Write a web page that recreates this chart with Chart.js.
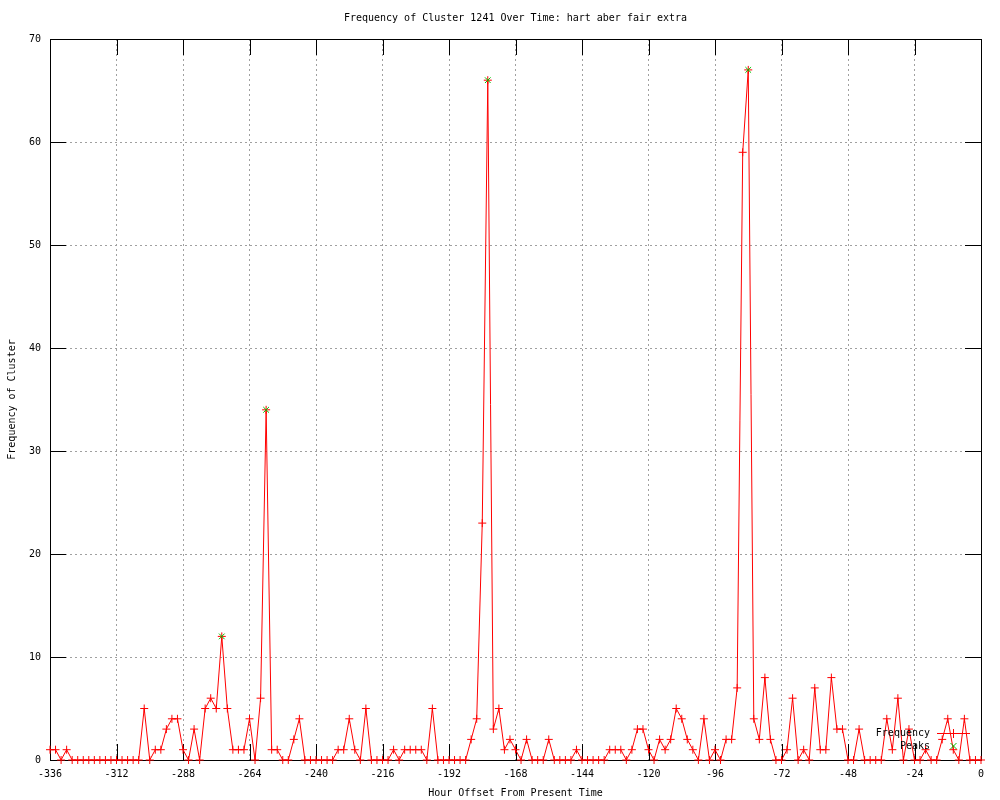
<!DOCTYPE html>
<html>
<head>
<meta charset="utf-8">
<script src="https://cdn.jsdelivr.net/npm/chart.js@4.4.1/dist/chart.umd.min.js"></script>
<style>
  html, body { margin: 0; padding: 0; background: #fff; }
  canvas { display: block; }
</style>
</head>
<body>
<canvas id="grafico" width="1000" height="800"></canvas>
<script>
// hour offsets (one point every 2 hours)
const hours = [
  -336,-334,-332,-330,-328,-326,-324,-322,-320,-318,-316,-314,
  -312,-310,-308,-306,-304,-302,-300,-298,-296,-294,-292,-290,
  -288,-286,-284,-282,-280,-278,-276,-274,-272,-270,-268,-266,
  -264,-262,-260,-258,-256,-254,-252,-250,-248,-246,-244,-242,
  -240,-238,-236,-234,-232,-230,-228,-226,-224,-222,-220,-218,
  -216,-214,-212,-210,-208,-206,-204,-202,-200,-198,-196,-194,
  -192,-190,-188,-186,-184,-182,-180,-178,-176,-174,-172,-170,
  -168,-166,-164,-162,-160,-158,-156,-154,-152,-150,-148,-146,
  -144,-142,-140,-138,-136,-134,-132,-130,-128,-126,-124,-122,
  -120,-118,-116,-114,-112,-110,-108,-106,-104,-102,-100,-98,
  -96,-94,-92,-90,-88,-86,-84,-82,-80,-78,-76,-74,
  -72,-70,-68,-66,-64,-62,-60,-58,-56,-54,-52,-50,
  -48,-46,-44,-42,-40,-38,-36,-34,-32,-30,-28,-26,
  -24,-22,-20,-18,-16,-14,-12,-10,-8,-6,-4,-2,
  0
];
const frequency = [
  1,1,0,1,0,0,0,0,0,0,0,0,
  0,0,0,0,0,5,0,1,1,3,4,4,
  1,0,3,0,5,6,5,12,5,1,1,1,
  4,0,6,34,1,1,0,0,2,4,0,0,
  0,0,0,0,1,1,4,1,0,5,0,0,
  0,0,1,0,1,1,1,1,0,5,0,0,
  0,0,0,0,2,4,23,66,3,5,1,2,
  1,0,2,0,0,0,2,0,0,0,0,1,
  0,0,0,0,0,1,1,1,0,1,3,3,
  1,0,2,1,2,5,4,2,1,0,4,0,
  1,0,2,2,7,59,67,4,2,8,2,0,
  0,1,6,0,1,0,7,1,1,8,3,3,
  0,0,3,0,0,0,0,4,1,6,0,3,
  0,0,1,0,0,2,4,1,0,4,0,0,
  0
];
const peakHours = [-274, -258, -178, -84];
const peakValues = [12, 34, 66, 67];

const xTicks = { min: -336, max: 0, step: 24 };
const yTicks = { min: 0, max: 70, step: 10 };

const titulo = 'Frequency of Cluster 1241 Over Time: hart aber fair extra';
const tituloX = 'Hour Offset From Present Time';
const tituloY = 'Frequency of Cluster';

const fuente = '10px "DejaVu Sans Mono"';
const rojo = '#ff0000';
const verde = '#00c000';

// marco, marcas, titulos y leyenda al estilo gnuplot
const marco = {
  id: 'marco',
  beforeDatasetsDraw(chart) {
    const { ctx, chartArea: a, scales: { x, y } } = chart;
    ctx.save();
    ctx.strokeStyle = '#000';
    ctx.lineWidth = 1;
    ctx.beginPath();
    x.ticks.forEach(t => {
      const px = Math.round(x.getPixelForValue(t.value)) + 0.5;
      ctx.moveTo(px, a.bottom); ctx.lineTo(px, a.bottom - 16);
      ctx.moveTo(px, a.top); ctx.lineTo(px, a.top + 16);
    });
    y.ticks.forEach(t => {
      const py = Math.round(y.getPixelForValue(t.value)) + 0.5;
      ctx.moveTo(a.left, py); ctx.lineTo(a.left + 16, py);
      ctx.moveTo(a.right, py); ctx.lineTo(a.right - 16, py);
    });
    ctx.stroke();
    ctx.strokeRect(Math.round(a.left) + 0.5, Math.round(a.top) + 0.5,
      Math.round(a.right - a.left), Math.round(a.bottom - a.top));
    ctx.restore();
  },
  afterDraw(chart) {
    const { ctx, chartArea: a } = chart;
    ctx.save();
    ctx.font = fuente;
    ctx.fillStyle = '#000';
    ctx.textBaseline = 'middle';
    ctx.textAlign = 'center';
    const cx = (a.left + a.right) / 2;
    ctx.fillText(titulo, cx, 18);
    ctx.fillText(tituloX, cx, 793);
    ctx.save();
    ctx.translate(12, (a.top + a.bottom) / 2);
    ctx.rotate(-Math.PI / 2);
    ctx.fillText(tituloY, 0, 0);
    ctx.restore();

    // leyenda
    ctx.textAlign = 'right';
    ctx.fillText('Frequency', 930, 733);
    ctx.fillText('Peaks', 930, 746);
    ctx.strokeStyle = rojo;
    ctx.lineWidth = 1;
    ctx.beginPath();
    ctx.moveTo(937, 733.5); ctx.lineTo(970, 733.5);
    ctx.moveTo(949.5, 733.5); ctx.lineTo(957.5, 733.5);
    ctx.moveTo(953.5, 729); ctx.lineTo(953.5, 738);
    ctx.stroke();
    ctx.strokeStyle = verde;
    ctx.beginPath();
    ctx.moveTo(950.5, 743); ctx.lineTo(956.5, 749);
    ctx.moveTo(956.5, 743); ctx.lineTo(950.5, 749);
    ctx.stroke();
    ctx.restore();
  }
};

const grafico = document.getElementById('grafico');
new Chart(grafico, {
  type: 'line',
  data: {
    datasets: [{
      label: 'Frequency',
      data: hours.map((h, i) => ({ x: h, y: frequency[i] })),
      borderColor: rojo,
      borderWidth: 1,
      pointStyle: 'cross',
      pointRadius: 4,
      pointBorderColor: rojo,
      pointBorderWidth: 1,
      tension: 0,
      clip: false,
      order: 1
    }, {
      label: 'Peaks',
      data: peakHours.map((h, i) => ({ x: h, y: peakValues[i] })),
      showLine: false,
      pointStyle: 'crossRot',
      pointRadius: 4,
      pointBorderColor: verde,
      pointBackgroundColor: verde,
      pointBorderWidth: 1,
      clip: false,
      order: 0
    }]
  },
  options: {
    responsive: false,
    animation: false,
    devicePixelRatio: 1,
    layout: { padding: { left: 0, top: 39, right: 19, bottom: 0 } },
    plugins: {
      legend: { display: false },
      title: { display: false },
      tooltip: { enabled: false }
    },
    scales: {
      x: {
        type: 'linear',
        min: xTicks.min,
        max: xTicks.max,
        afterFit: s => { s.height = 40; },
        ticks: {
          stepSize: xTicks.step,
          color: '#000',
          font: { family: 'DejaVu Sans Mono', size: 10 },
          padding: 8,
          maxRotation: 0,
          autoSkip: false
        },
        grid: { color: '#a0a0a0', drawTicks: false },
        border: { display: false, dash: [2, 3] }
      },
      y: {
        min: yTicks.min,
        max: yTicks.max,
        afterFit: s => { s.width = 50; },
        ticks: {
          stepSize: yTicks.step,
          color: '#000',
          font: { family: 'DejaVu Sans Mono', size: 10 },
          padding: 9
        },
        grid: { color: '#a0a0a0', drawTicks: false },
        border: { display: false, dash: [2, 3] }
      }
    }
  },
  plugins: [marco]
});
</script>
</body>
</html>
